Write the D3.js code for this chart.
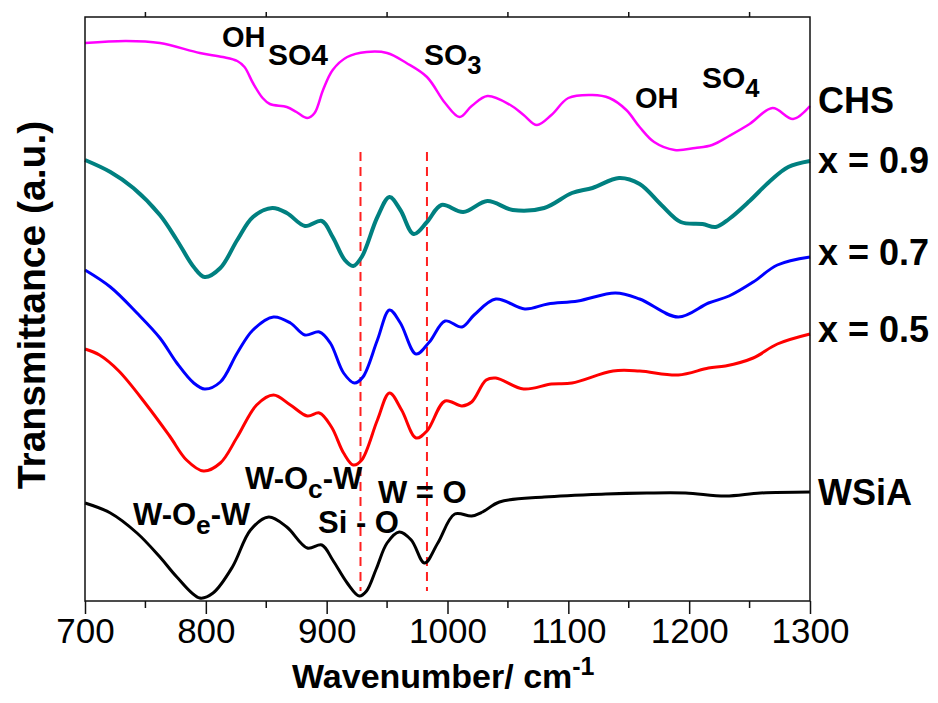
<!DOCTYPE html>
<html>
<head>
<meta charset="utf-8">
<script src="https://cdn.jsdelivr.net/npm/d3@7"></script>
<style>
  body { margin: 0; background: #fff; }
  text { font-family: "Liberation Sans", Arial, sans-serif; fill: #000; }
  .lbl { font-weight: bold; }
</style>
</head>
<body>
<div id="chart"></div>
<script>
// wavenumber (cm-1) and transmittance (a.u., curves stacked with offsets)
var chsWave = [700, 734, 762, 795, 814, 826, 832, 839, 847, 853, 867, 875, 884, 890, 897, 905, 917, 933, 950, 966, 983, 998, 1010, 1020, 1033, 1052, 1063, 1074, 1086, 1100, 1120, 1134, 1148, 1159, 1171, 1188, 1205, 1219, 1233, 1250, 1269, 1286, 1300];
var chsT = [558, 560, 558, 548, 544, 540, 534, 518, 503, 497, 494, 489, 483, 488, 511, 531, 544, 549, 548, 538, 524, 498, 484, 495, 505, 496, 486, 476, 486, 503, 506, 503, 491, 474, 459, 451, 453, 456, 465, 477, 493, 482, 495];

var x09Wave = [700, 721, 740, 762, 776, 790, 799, 812, 826, 839, 855, 867, 882, 896, 905, 915, 922, 929, 942, 952, 961, 972, 983, 995, 1013, 1033, 1054, 1080, 1103, 1120, 1142, 1159, 1177, 1193, 1211, 1222, 1233, 1250, 1267, 1282, 1300];
var x09T = [441, 429, 413, 386, 361, 334, 324, 333, 361, 384, 393, 388, 375, 380, 364, 341, 335, 344, 384, 404, 391, 367, 379, 396, 389, 400, 391, 393, 408, 413, 423, 417, 396, 379, 377, 374, 382, 400, 420, 434, 440];

var x07Wave = [700, 721, 743, 762, 776, 790, 799, 812, 826, 839, 856, 870, 882, 894, 903, 914, 923, 930, 942, 952, 961, 974, 985, 998, 1012, 1022, 1040, 1064, 1083, 1108, 1139, 1159, 1191, 1216, 1233, 1253, 1273, 1300];
var x07T = [331, 314, 288, 263, 238, 218, 212, 219, 248, 271, 284, 278, 266, 269, 258, 228, 218, 224, 261, 291, 278, 247, 259, 280, 274, 286, 302, 292, 297, 300, 308, 302, 284, 298, 305, 319, 336, 344];

var x05Wave = [700, 712, 728, 751, 770, 784, 798, 812, 826, 842, 856, 870, 884, 894, 904, 914, 922, 929, 942, 952, 962, 974, 983, 998, 1012, 1020, 1032, 1040, 1063, 1086, 1103, 1137, 1159, 1191, 1216, 1230, 1253, 1273, 1300];
var x05T = [252, 246, 230, 196, 165, 141, 130, 138, 164, 196, 206, 196, 185, 188, 174, 148, 136, 141, 181, 208, 191, 163, 170, 200, 195, 199, 221, 223, 212, 217, 218, 230, 230, 226, 233, 235, 243, 257, 267];

var wsiaWave = [700, 721, 743, 762, 776, 795, 806, 822, 837, 852, 867, 884, 896, 905, 917, 927, 933, 941, 950, 960, 970, 981, 992, 1006, 1020, 1029, 1043, 1080, 1131, 1165, 1197, 1230, 1259, 1300];
var wsiaT = [98, 88, 68, 44, 24, 3, 8, 34, 71, 84, 74, 53, 56, 41, 18, 5, 10, 32, 58, 69, 61, 38, 58, 87, 85, 89, 99, 104, 107, 108, 108, 105, 108, 109];

var seriesNames = ["CHS", "x = 0.9", "x = 0.7", "x = 0.5", "WSiA"];
var seriesWaves = [chsWave, x09Wave, x07Wave, x05Wave, wsiaWave];
var seriesTs = [chsT, x09T, x07T, x05T, wsiaT];
var seriesColors = ["#ff00ff", "#008080", "#0000ff", "#ff0000", "#000000"];
var seriesWidths = [2.5, 4, 3, 3, 3];

var xTicks = [700, 800, 900, 1000, 1100, 1200, 1300];
var dashedAt = [928, 983];

var svgWidth = 938;
var svgHeight = 703;
var margin = { top: 17, right: 128, bottom: 102, left: 85 };
var width = svgWidth - margin.left - margin.right;
var height = svgHeight - margin.top - margin.bottom;

var svg = d3.select("#chart")
  .append("svg")
  .attr("width", svgWidth)
  .attr("height", svgHeight);

var chartGroup = svg.append("g")
  .attr("transform", `translate(${margin.left}, ${margin.top})`);

var xScale = d3.scaleLinear().domain([700, 1300]).range([0, width]);
var yScale = d3.scaleLinear().domain([0, 584]).range([height, 0]);

// dashed guide lines
chartGroup.selectAll(".guide")
  .data(dashedAt)
  .enter()
  .append("line")
  .attr("x1", d => xScale(d))
  .attr("x2", d => xScale(d))
  .attr("y1", yScale(449))
  .attr("y2", yScale(10))
  .attr("stroke", "#ff2020")
  .attr("stroke-width", 2)
  .attr("stroke-dasharray", "9,6");

var line = d3.line()
  .x(d => xScale(d[0]))
  .y(d => yScale(d[1]))
  .curve(d3.curveCatmullRom.alpha(0.5));

seriesNames.forEach(function(name, i) {
  var pts = seriesWaves[i].map((w, j) => [w, seriesTs[i][j]]);
  chartGroup.append("path")
    .datum(pts)
    .attr("fill", "none")
    .attr("stroke", seriesColors[i])
    .attr("stroke-width", seriesWidths[i])
    .attr("stroke-linejoin", "round")
    .attr("d", line);
});

// frame
chartGroup.append("rect")
  .attr("width", width)
  .attr("height", height)
  .attr("fill", "none")
  .attr("stroke", "#111")
  .attr("stroke-width", 1.5);

// bottom axis: major + minor ticks
var bottomAxis = d3.axisBottom(xScale)
  .tickValues(xTicks)
  .tickSize(13)
  .tickPadding(4)
  .tickFormat(d3.format("d"));

var gx = chartGroup.append("g")
  .attr("transform", `translate(0, ${height})`)
  .call(bottomAxis);
gx.select(".domain").remove();
gx.selectAll("line").attr("stroke", "#111").attr("stroke-width", 1.5);
gx.selectAll("text")
  .attr("font-size", 35)
  .attr("font-family", "Liberation Sans, Arial, sans-serif")
  .attr("fill", "#000");

var minorTicks = d3.range(750, 1300, 100);
gx.selectAll(".minor")
  .data(minorTicks)
  .enter()
  .append("line")
  .attr("x1", d => xScale(d))
  .attr("x2", d => xScale(d))
  .attr("y1", 0)
  .attr("y2", 7)
  .attr("stroke", "#111")
  .attr("stroke-width", 1.5);

// top axis minor ticks only
chartGroup.selectAll(".topminor")
  .data(minorTicks)
  .enter()
  .append("line")
  .attr("x1", d => xScale(d))
  .attr("x2", d => xScale(d))
  .attr("y1", 0)
  .attr("y2", -5)
  .attr("stroke", "#111")
  .attr("stroke-width", 1.5);

// axis titles
var xt = svg.append("text")
  .attr("class", "lbl")
  .attr("x", 292)
  .attr("y", 688)
  .attr("font-size", 34);
xt.append("tspan").text("Wavenumber/ cm");
xt.append("tspan").attr("dy", -13).attr("font-size", 25).text("-1");

svg.append("text")
  .attr("class", "lbl")
  .attr("transform", "translate(45, 305) rotate(-90)")
  .attr("text-anchor", "middle")
  .attr("font-size", 39)
  .text("Transmittance (a.u.)");

// series names on the right
var nameY = [113, 173, 265, 342, 505];
seriesNames.forEach(function(name, i) {
  svg.append("text")
    .attr("class", "lbl")
    .attr("x", 818)
    .attr("y", nameY[i])
    .attr("font-size", 36)
    .text(name);
});

// band annotations: [x, y, main, sub, size, subShift]
var notes = [
  [222, 47, "OH", "", 29, 0],
  [268, 65, "SO4", "", 30, 0],
  [424, 65, "SO", "3", 30, 9],
  [635, 108, "OH", "", 29, 0],
  [702, 88, "SO", "4", 30, 9],
  [133, 525, "W-O", "e", 31, 9],
  [245, 489, "W-O", "c", 31, 9],
  [318, 533, "Si - O", "", 31, 0],
  [378, 503, "W = O", "", 31, 0]
];
notes.forEach(function(n) {
  var t = svg.append("text")
    .attr("class", "lbl")
    .attr("x", n[0])
    .attr("y", n[1])
    .attr("font-size", n[4]);
  t.append("tspan").text(n[2]);
  if (n[3]) {
    t.append("tspan").attr("dy", n[5]).attr("font-size", n[4] * 0.85).text(n[3]);
    if (n[2] === "W-O") {
      t.append("tspan").attr("dy", -n[5]).text("-W");
    }
  }
});
</script>
</body>
</html>
